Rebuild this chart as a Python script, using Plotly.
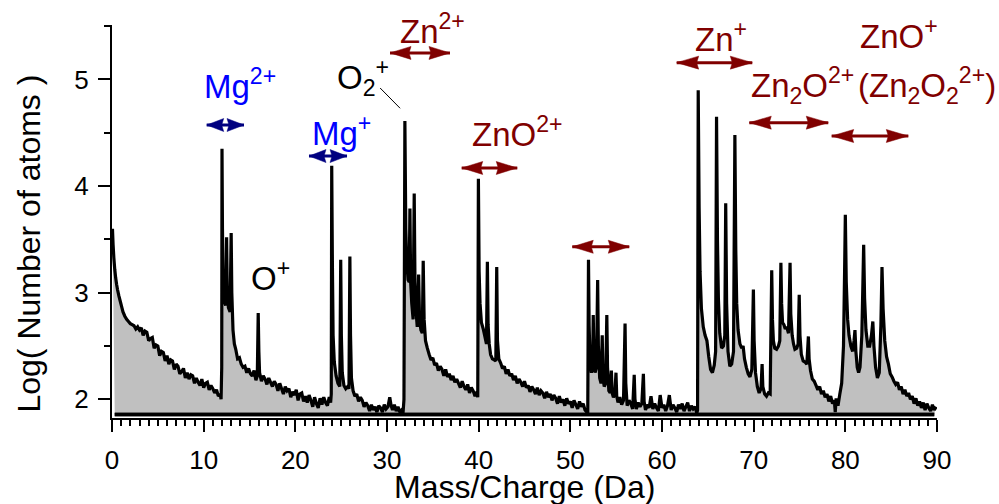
import plotly.graph_objects as go

# ---------------- data (mass/charge in Da, log10 counts) ----------------
seg_bg_0_12 = [(0.05,3.60),(0.12,3.45),(0.2,3.33),(0.3,3.22),(0.4,3.14),(0.5,3.08),(0.6,3.03),(0.75,2.97),
               (0.9,2.92),(1.05,2.87),(1.2,2.82),(1.4,2.78),(1.6,2.75),(1.8,2.73),(2.0,2.71),(2.2,2.70),
               (2.4,2.69),(2.6,2.66),(2.8,2.68),(3.0,2.65),(3.2,2.67),(3.4,2.60),(3.6,2.64),(3.8,2.63),
               (4.0,2.55),(4.2,2.57),(4.4,2.58),(4.6,2.48),(4.8,2.51),(5.0,2.50),(5.2,2.41),(5.4,2.45),
               (5.6,2.44),(5.8,2.36),(6.0,2.41),(6.2,2.33),(6.4,2.37),(6.6,2.36),(6.8,2.28),(7.0,2.33),
               (7.2,2.31),(7.4,2.24),(7.6,2.26),(7.8,2.29),(8.0,2.20),(8.2,2.25),(8.4,2.19),(8.6,2.23),
               (8.8,2.22),(9.0,2.15),(9.2,2.20),(9.4,2.16),(9.6,2.13),(9.8,2.19),(10.0,2.11),(10.2,2.15),
               (10.4,2.16),(10.6,2.09),(10.8,2.13),(11.0,2.10),(11.2,2.06),(11.4,2.09),(11.6,2.03),
               (11.8,2.05),(11.9,2.00)]

seg_mg2_o = [(11.97,2.30),(12.0,4.35),(12.05,3.60),(12.12,3.10),(12.25,2.92),(12.4,2.88),(12.5,3.52),
             (12.57,3.05),(12.7,2.86),(12.88,2.82),(13.0,3.56),(13.07,3.00),(13.2,2.65),(13.35,2.52),
             (13.5,2.47),(13.7,2.38),(13.9,2.39),(14.1,2.33),(14.3,2.30),(14.5,2.31),(14.7,2.25),
             (14.9,2.29),(15.1,2.24),(15.3,2.22),(15.5,2.27),(15.7,2.18),(15.85,2.22),(15.95,2.81),
             (16.02,2.45),(16.1,2.25),(16.3,2.17),(16.5,2.22),(16.7,2.19),(16.9,2.14),(17.1,2.20),
             (17.3,2.16),(17.5,2.12),(17.7,2.17),(17.9,2.14),(18.1,2.08),(18.3,2.15),(18.5,2.10),
             (18.7,2.05),(18.9,2.12),(19.1,2.08),(19.3,2.10),(19.5,2.02),(19.7,2.07),(19.9,2.04),
             (20.1,2.09),(20.3,1.99),(20.5,2.05),(20.7,2.06),(20.9,1.98),(21.1,2.03),(21.3,1.97),
             (21.5,2.04),(21.7,1.99),(21.9,1.93),(22.1,2.02),(22.3,1.96),(22.5,1.92),(22.7,2.01),
             (22.9,1.95),(23.1,2.02),(23.3,1.97),(23.5,1.94),(23.7,2.02),(23.85,1.97)]

seg_mg1 = [(23.92,2.05),(23.97,4.19),(24.04,3.30),(24.12,2.60),(24.25,2.35),(24.45,2.22),(24.65,2.15),
           (24.85,2.12),(24.95,3.31),(25.02,2.60),(25.12,2.25),(25.3,2.13),(25.5,2.10),(25.7,2.12),
           (25.85,2.10),(25.95,3.34),(26.02,2.60),(26.12,2.20),(26.3,2.08),(26.5,2.03),(26.7,2.05),
           (26.9,1.98),(27.1,2.02),(27.3,1.99),(27.5,1.93),(27.7,1.97),(27.9,1.94),(28.1,1.89),
           (28.3,1.95),(28.5,1.90),(28.7,1.93),(28.9,1.88),(29.1,1.94),(29.3,1.92),(29.5,1.88),
           (29.7,1.95),(29.9,1.91),(30.1,1.93),(30.3,2.02),(30.45,1.94),(30.6,1.90),(30.8,1.95),
           (31.0,1.89),(31.2,1.93),(31.4,1.88),(31.6,1.90),(31.75,1.87)]

seg_o2_zno2 = [(31.85,2.00),(31.95,4.61),(32.05,3.60),(32.15,3.30),(32.3,3.12),(32.42,3.10),(32.5,3.79),
               (32.58,3.10),(32.7,2.90),(32.85,2.75),(32.97,3.93),(33.05,3.10),(33.15,2.85),(33.3,2.68),
               (33.45,3.17),(33.55,2.75),(33.7,2.65),(33.85,2.62),(33.95,3.30),(34.05,2.75),(34.2,2.55),
               (34.4,2.48),(34.6,2.42),(34.8,2.37),(35.0,2.39),(35.2,2.32),(35.4,2.34),(35.6,2.27),
               (35.8,2.31),(36.0,2.28),(36.2,2.22),(36.4,2.28),(36.6,2.21),(36.8,2.24),(37.0,2.18),
               (37.2,2.22),(37.4,2.16),(37.6,2.19),(37.8,2.15),(38.0,2.11),(38.2,2.17),(38.4,2.12),
               (38.6,2.09),(38.8,2.14),(39.0,2.06),(39.2,2.11),(39.4,2.08),(39.6,2.03),(39.8,2.07),
               (39.9,2.02),(39.97,4.07),(40.05,3.20),(40.15,2.90),(40.3,2.72),(40.5,2.66),(40.7,2.58),
               (40.85,2.52),(40.95,3.29),(41.03,2.70),(41.15,2.52),(41.3,2.42),(41.5,2.38),(41.7,2.37),
               (41.87,2.36),(41.97,3.24),(42.05,2.55),(42.2,2.38),(42.4,2.34),(42.6,2.29),(42.8,2.31),
               (43.0,2.24),(43.2,2.28),(43.4,2.22),(43.6,2.24),(43.8,2.18),(44.0,2.22),(44.2,2.15),
               (44.4,2.19),(44.6,2.16),(44.8,2.12),(45.0,2.17),(45.2,2.11),(45.4,2.13),(45.6,2.07),
               (45.8,2.12),(46.0,2.09),(46.2,2.05),(46.4,2.11),(46.6,2.04),(46.8,2.08),(47.0,2.06),
               (47.2,2.01),(47.4,2.07),(47.6,2.02),(47.8,2.05),(48.0,1.99),(48.2,2.04),(48.4,2.01),
               (48.6,1.96),(48.8,2.03),(49.0,1.97),(49.2,2.00),(49.4,1.94),(49.6,2.01),(49.8,1.96),
               (50.0,1.98),(50.2,1.92),(50.4,1.99),(50.6,1.95),(50.8,1.91),(51.0,1.98),(51.2,1.93),
               (51.4,1.96),(51.6,1.90),(51.8,1.88)]

seg_52 = [(51.9,1.87),(51.98,3.31),(52.05,2.70),(52.15,2.35),(52.3,2.25),(52.42,2.30),(52.5,2.79),
          (52.58,2.35),(52.7,2.25),(52.85,2.30),(52.98,3.12),(53.06,2.50),(53.2,2.20),(53.35,2.15),
          (53.48,2.60),(53.56,2.20),(53.7,2.12),(53.85,2.15),(53.98,2.79),(54.06,2.30),(54.2,2.08),
          (54.35,2.06),(54.48,2.27),(54.56,2.06),(54.7,2.02),(54.85,2.04),(54.98,2.25),(55.06,2.03),
          (55.2,1.97),(55.4,2.02),(55.6,1.95),(55.8,1.99),(55.97,2.71),(56.05,2.15),(56.2,1.94),
          (56.4,1.99),(56.6,1.96),(56.8,1.91),(56.97,2.23),(57.05,2.00),(57.2,1.91),(57.4,1.97),
          (57.6,1.93),(57.8,1.96),(57.97,2.24),(58.05,1.98),(58.2,1.90),(58.4,1.95),(58.6,1.92),
          (58.8,2.03),(59.0,1.91),(59.2,1.96),(59.4,1.92),(59.6,1.89),(59.8,2.04),(60.0,1.92),
          (60.2,1.95),(60.4,1.89),(60.6,1.94),(60.8,2.04),(61.0,1.90),(61.2,1.95),(61.4,1.92),
          (61.6,1.88),(61.8,1.95),(62.0,1.91),(62.2,1.96),(62.4,1.89),(62.6,1.93),(62.8,1.97),
          (63.0,1.89),(63.2,1.94),(63.4,1.91),(63.6,1.93),(63.8,1.87)]

seg_zn_zn2o = [(63.88,1.90),(63.95,4.90),(64.05,3.80),(64.15,3.20),(64.3,2.85),(64.5,2.68),(64.7,2.60),
               (64.9,2.55),(65.1,2.40),(65.3,2.28),(65.5,2.25),(65.7,2.32),(65.85,2.45),(65.95,4.65),
               (66.05,3.50),(66.15,2.95),(66.3,2.62),(66.5,2.48),(66.7,2.50),(66.85,2.60),(66.95,3.84),
               (67.05,2.90),(67.2,2.45),(67.4,2.31),(67.6,2.33),(67.8,2.45),(67.95,4.48),(68.05,3.40),
               (68.15,2.90),(68.3,2.65),(68.5,2.52),(68.7,2.48),(68.85,2.50),(69.0,2.38),(69.2,2.30),
               (69.4,2.24),(69.6,2.21),(69.8,2.28),(69.97,3.03),(70.05,2.55),(70.2,2.25),(70.4,2.12),
               (70.6,2.06),(70.8,2.10),(70.92,2.33),(71.0,2.12),(71.2,2.05),(71.4,2.03),(71.6,2.06),
               (71.8,2.05),(71.97,3.21),(72.05,2.75),(72.15,2.55),(72.3,2.48),(72.5,2.47),(72.7,2.50),
               (72.85,2.55),(72.97,3.28),(73.05,2.90),(73.15,2.72),(73.3,2.70),(73.45,2.66),(73.6,2.68),
               (73.8,2.62),(73.97,3.28),(74.05,2.80),(74.2,2.60),(74.35,2.52),(74.5,2.47),(74.7,2.48),
               (74.85,2.52),(74.97,2.98),(75.05,2.60),(75.2,2.42),(75.4,2.36),(75.6,2.35),(75.8,2.33),
               (75.97,2.59),(76.05,2.38),(76.2,2.27),(76.4,2.19),(76.6,2.17),(76.8,2.13),(77.0,2.09),
               (77.2,2.12),(77.4,2.05),(77.6,2.08),(77.8,2.02),(78.0,2.05),(78.2,1.98),(78.4,2.03),
               (78.6,1.96),(78.8,1.99),(78.9,1.88),(79.0,2.01),(79.2,1.94),(79.4,2.05)]

seg_zno = [(79.6,2.15),(79.8,2.50),(79.92,3.20),(80.0,3.73),(80.1,3.10),(80.25,2.75),(80.4,2.60),
           (80.6,2.50),(80.8,2.45),(80.95,2.55),(81.05,2.65),(81.15,2.45),(81.3,2.30),(81.45,2.25),
           (81.6,2.30),(81.8,2.60),(81.92,3.10),(82.0,3.45),(82.1,2.95),(82.25,2.65),(82.45,2.50),
           (82.65,2.50),(82.85,2.60),(83.0,2.73),(83.12,2.50),(83.3,2.30),(83.5,2.20),(83.7,2.25),
           (83.88,2.70),(84.0,3.24),(84.12,2.85),(84.3,2.55),(84.5,2.40),(84.7,2.33),(84.9,2.24),
           (85.1,2.21),(85.3,2.17),(85.5,2.14),(85.7,2.16),(85.9,2.09),(86.1,2.12),(86.3,2.05),
           (86.5,2.09),(86.7,2.03),(86.9,2.06),(87.1,2.00),(87.3,2.03),(87.5,1.96),(87.7,2.01),
           (87.9,1.94),(88.1,1.98),(88.3,1.92),(88.5,1.97),(88.7,1.90),(88.9,1.96),(89.1,1.92),
           (89.3,1.89),(89.5,1.95),(89.7,1.90),(89.9,1.93)]

segments = [seg_bg_0_12, seg_mg2_o, seg_mg1, seg_o2_zno2, seg_52, seg_zn_zn2o, seg_zno]
mass = [p[0] for s in segments for p in s]
log_counts = [p[1] for s in segments for p in s]

floor_mass = [0.3, 89.7]
floor_level = [1.857, 1.857]

x_ticks = [0, 10, 20, 30, 40, 50, 60, 70, 80, 90]
y_ticks = [2, 3, 4, 5]

# peak-range labels: text, x, y, colour
RED = "#800000"
labels = [
    ("Mg<sup>2+</sup>", 13.93, 4.96, "#0000ff"),
    ("Mg<sup>+</sup>", 25.0, 4.52, "#0000ff"),
    ("O<sub>2</sub><sup>+</sup>", 27.4, 5.02, "black"),
    ("Zn<sup>2+</sup>", 34.98, 5.47, RED),
    ("ZnO<sup>2+</sup>", 44.25, 4.51, RED),
    ("Zn<sup>+</sup>", 66.44, 5.40, RED),
    ("Zn<sub>2</sub>O<sup>2+</sup>", 75.3, 4.94, RED),
    ("ZnO<sup>+</sup>", 85.8, 5.43, RED),
    ("(Zn<sub>2</sub>O<sub>2</sub><sup>2+</sup>)", 88.94, 4.94, RED),
    ("O<sup>+</sup>", 17.27, 3.16, "black"),
]
# double arrows: x start, x end, y, colour, head length (px)
arrows = [
    (10.33, 14.40, 4.573, "#000080", 17),
    (21.49, 25.64, 4.282, "#000080", 17),
    (30.33, 36.87, 5.249, RED, 21),
    (38.15, 44.21, 4.170, RED, 21),
    (50.21, 56.43, 3.431, RED, 21),
    (61.60, 69.85, 5.158, RED, 22),
    (69.52, 78.14, 4.595, RED, 22),
    (78.51, 86.87, 4.470, RED, 22),
]

FONT = "Arial, Liberation Sans, sans-serif"

fig = go.Figure()
fig.add_trace(go.Scatter(x=floor_mass, y=floor_level, mode="lines",
                         line=dict(color="black", width=3.5), hoverinfo="skip"))
fig.add_trace(go.Scatter(x=mass, y=log_counts, mode="lines", fill="tonexty",
                         fillcolor="#c0c0c0",
                         line=dict(color="black", width=3.2, simplify=False)))
fig.add_trace(go.Scatter(x=floor_mass, y=floor_level, mode="lines",
                         line=dict(color="black", width=3.5), hoverinfo="skip"))

annotations = []
for txt, x, y, col in labels:
    annotations.append(dict(x=x, y=y, xref="x", yref="y", text=txt, showarrow=False,
                            font=dict(family=FONT, size=33, color=col),
                            xanchor="center", yanchor="middle"))
# axis titles
annotations.append(dict(x=-0.1018, y=0.444, xref="paper", yref="paper",
                        text="Log( Number of atoms )", showarrow=False, textangle=-90,
                        font=dict(family=FONT, size=32, color="black"),
                        xanchor="center", yanchor="middle"))
annotations.append(dict(x=0.5, y=-0.176, xref="paper", yref="paper",
                        text="Mass/Charge (Da)", showarrow=False,
                        font=dict(family=FONT, size=32, color="black"),
                        xanchor="center", yanchor="middle"))

shapes = []
for x0, x1, y, col, hl in arrows:
    shapes.append(dict(type="line", xref="x", yref="y", x0=x0, x1=x1, y0=y, y1=y,
                       line=dict(color=col, width=3)))
    shapes.append(dict(type="path", xref="x", yref="y", xsizemode="pixel", ysizemode="pixel",
                       xanchor=x0, yanchor=y,
                       path=f"M0,0 L{hl},6.5 L{hl-2},0 L{hl},-6.5 Z",
                       fillcolor=col, line=dict(color=col, width=0.5)))
    shapes.append(dict(type="path", xref="x", yref="y", xsizemode="pixel", ysizemode="pixel",
                       xanchor=x1, yanchor=y,
                       path=f"M0,0 L{-hl},6.5 L{-hl+2},0 L{-hl},-6.5 Z",
                       fillcolor=col, line=dict(color=col, width=0.5)))
# leader line for O2+
shapes.append(dict(type="line", xref="x", yref="y", x0=29.25, y0=4.92, x1=31.43, y1=4.73,
                   line=dict(color="black", width=1)))

fig.update_layout(
    width=999, height=504,
    margin=dict(l=112, r=62, t=25, b=86),
    paper_bgcolor="white", plot_bgcolor="white",
    showlegend=False,
    font=dict(family=FONT, color="black"),
    annotations=annotations, shapes=shapes,
)
fig.update_xaxes(range=[0, 90], tickmode="array", tickvals=x_ticks,
                 showgrid=False, zeroline=False, showline=True, linecolor="black", linewidth=2,
                 ticks="outside", ticklen=12, tickwidth=2, tickcolor="black",
                 tickfont=dict(family=FONT, size=26), ticklabelstandoff=6,
                 minor=dict(dtick=1, ticks="outside", ticklen=6, tickwidth=2, tickcolor="black",
                            showgrid=False))
fig.update_yaxes(range=[1.825, 5.511], tickmode="array", tickvals=y_ticks,
                 showgrid=False, zeroline=False, showline=True, linecolor="black", linewidth=2,
                 ticks="outside", ticklen=12, tickwidth=2, tickcolor="black",
                 tickfont=dict(family=FONT, size=26), ticklabelstandoff=4,
                 minor=dict(dtick=0.5, ticks="outside", ticklen=6, tickwidth=2, tickcolor="black",
                            showgrid=False))

fig.write_html("out.html", config={"displayModeBar": False},
               post_script="document.body.style.margin='0px';")
